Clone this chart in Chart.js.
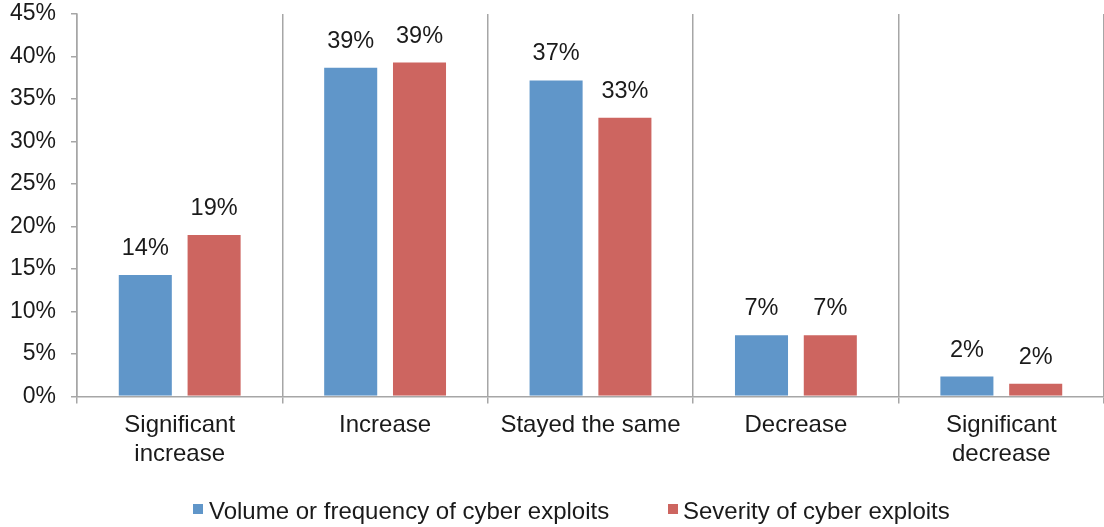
<!DOCTYPE html>
<html>
<head>
<meta charset="utf-8">
<script src="https://cdn.jsdelivr.net/npm/chart.js@4"></script>
<style>
html, body { margin: 0; padding: 0; background: #fff; }
#wrap { width: 1104px; height: 527px; }
</style>
</head>
<body>
<div id="wrap"><canvas id="chart" width="1104" height="527"></canvas></div>
<script>
// Categories and series
const categories = [['Significant', 'increase'], 'Increase', 'Stayed the same', 'Decrease', ['Significant', 'decrease']];
const volumeValues = [14.4, 38.8, 37.3, 7.3, 2.45];
const severityValues = [19.1, 39.4, 32.9, 7.3, 1.6];
const seriesNames = ['Volume or frequency of cyber exploits', 'Severity of cyber exploits'];
const seriesColors = ['#6096c9', '#cd6560'];
const yTicks = [0, 5, 10, 15, 20, 25, 30, 35, 40, 45];

const FONT = 'Liberation Sans, Arial, sans-serif';
const axisGray = '#a6a6a6';

// Percent labels above each bar
const barLabels = {
  id: 'barLabels',
  afterDatasetsDraw(chart) {
    const c = chart.ctx;
    c.save();
    c.fillStyle = '#1a1a1a';
    c.font = '23.5px ' + FONT;
    c.textAlign = 'center';
    c.textBaseline = 'alphabetic';
    chart.data.datasets.forEach((ds, di) => {
      chart.getDatasetMeta(di).data.forEach((bar, i) => {
        c.fillText(Math.round(ds.data[i]) + '%', bar.x, bar.y - 19);
      });
    });
    c.restore();
  }
};

// Legend drawn along the bottom
const bottomLegend = {
  id: 'bottomLegend',
  afterDraw(chart) {
    const c = chart.ctx;
    const spots = [{ box: 193, text: 209 }, { box: 668, text: 683 }];
    c.save();
    c.font = '24px ' + FONT;
    c.textBaseline = 'middle';
    c.textAlign = 'left';
    seriesNames.forEach((name, i) => {
      c.fillStyle = seriesColors[i];
      c.fillRect(spots[i].box, 504, 10, 10);
      c.fillStyle = '#1a1a1a';
      c.fillText(name, spots[i].text, 512);
    });
    c.restore();
  }
};

new Chart(document.getElementById('chart'), {
  type: 'bar',
  data: {
    labels: categories,
    datasets: [
      { label: seriesNames[0], data: volumeValues, backgroundColor: seriesColors[0], borderColor: '#ffffff', borderWidth: 1 },
      { label: seriesNames[1], data: severityValues, backgroundColor: seriesColors[1], borderColor: '#ffffff', borderWidth: 1 }
    ]
  },
  options: {
    responsive: false,
    animation: false,
    events: [],
    layout: { padding: { top: 14, right: 0, bottom: 50, left: 0 } },
    datasets: { bar: { categoryPercentage: 0.67, barPercentage: 0.8 } },
    plugins: { legend: { display: false }, tooltip: { enabled: false } },
    scales: {
      x: {
        grid: { color: axisGray, lineWidth: 1.5, tickLength: 7, offset: true },
        border: { color: axisGray, width: 1.5 },
        ticks: { color: '#1a1a1a', font: { family: FONT, size: 24 }, padding: 8, maxRotation: 0 }
      },
      y: {
        min: 0,
        max: 45,
        afterBuildTicks: (s) => { s.ticks = yTicks.map(v => ({ value: v })); },
        afterFit: (s) => { s.width = 77; s.paddingTop = 0; s.paddingBottom = 0; },
        grid: { drawOnChartArea: false, color: axisGray, lineWidth: 1.5, tickLength: 6 },
        border: { color: axisGray, width: 1.5 },
        ticks: { color: '#1a1a1a', font: { family: FONT, size: 23 }, padding: 15, callback: v => v + '%' }
      }
    }
  },
  plugins: [barLabels, bottomLegend]
});
</script>
</body>
</html>
